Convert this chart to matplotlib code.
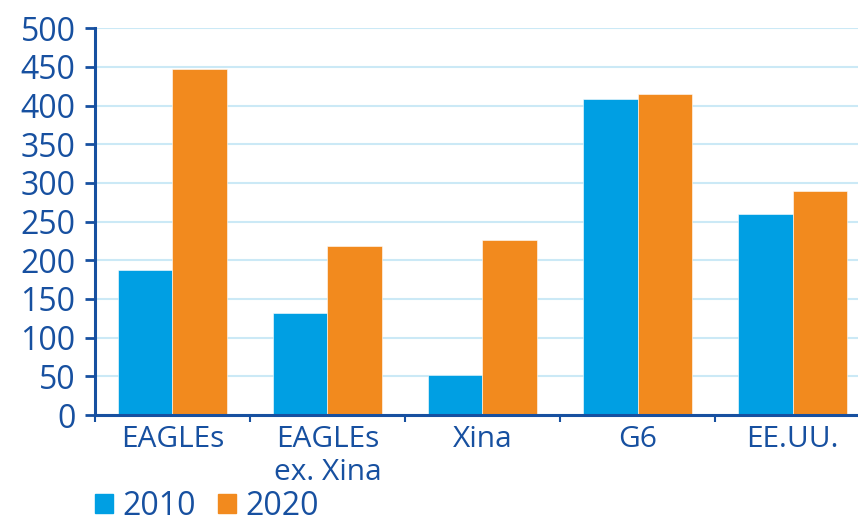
import numpy as np
import matplotlib
matplotlib.use("Agg")
import matplotlib.pyplot as plt
from matplotlib.patches import Patch

categories = ["EAGLEs", "EAGLEs\nex. Xina", "Xina", "G6", "EE.UU."]
values_2010 = [187, 132, 52, 408, 260]
values_2020 = [447, 218, 226, 415, 290]
series_labels = ["2010", "2020"]
yticks = [0, 50, 100, 150, 200, 250, 300, 350, 400, 450, 500]

BLUE = "#009FE3"
ORANGE = "#F28A1E"
NAVY = "#1750A0"
GRID = "#CBE9F6"

plt.rcParams["font.family"] = ["Open Sans", "DejaVu Sans"]

fig = plt.figure(figsize=(8.58, 5.23), dpi=100)
ax = fig.add_axes([0.1107, 0.2065, 0.9033, 0.7394])

x = np.arange(len(categories))
w = 0.35
ax.bar(x - w / 2, values_2010, w, color=BLUE, edgecolor="white", linewidth=0.4, zorder=3)
ax.bar(x + w / 2, values_2020, w, color=ORANGE, edgecolor="white", linewidth=0.4, zorder=3)

ax.set_xlim(-0.5, len(categories) - 0.5)
ax.set_ylim(0, 500)
ax.set_yticks(yticks)
ax.set_yticklabels([str(v) for v in yticks], fontsize=23, color=NAVY)
ax.set_xticks(x)
ax.set_xticklabels(categories, fontsize=21.5, color=NAVY, linespacing=1.2, va="top")
ax.set_xticks(np.arange(-0.5, len(categories), 1.0), minor=True)
ax.tick_params(axis="x", which="major", length=0, pad=7)
ax.tick_params(axis="x", which="minor", length=5, width=1.5, color=NAVY, direction="out")
ax.tick_params(axis="y", length=7, width=2, color=NAVY, pad=7)

ax.grid(axis="y", color=GRID, linewidth=1.5, zorder=0)
for s in ["top", "right"]:
    ax.spines[s].set_visible(False)
for s in ["left", "bottom"]:
    ax.spines[s].set_color(NAVY)
    ax.spines[s].set_linewidth(2.2)
    ax.spines[s].set_zorder(4)

handles = [Patch(color=BLUE), Patch(color=ORANGE)]
fig.legend(handles, series_labels, loc="lower left", bbox_to_anchor=(0.1107, 0.0),
           ncol=2, frameon=False, fontsize=23, labelcolor=NAVY, borderpad=0,
           borderaxespad=0, handlelength=0.55, handleheight=0.55,
           handletextpad=0.3, columnspacing=0.7)

fig.savefig("out.png", dpi=100)
